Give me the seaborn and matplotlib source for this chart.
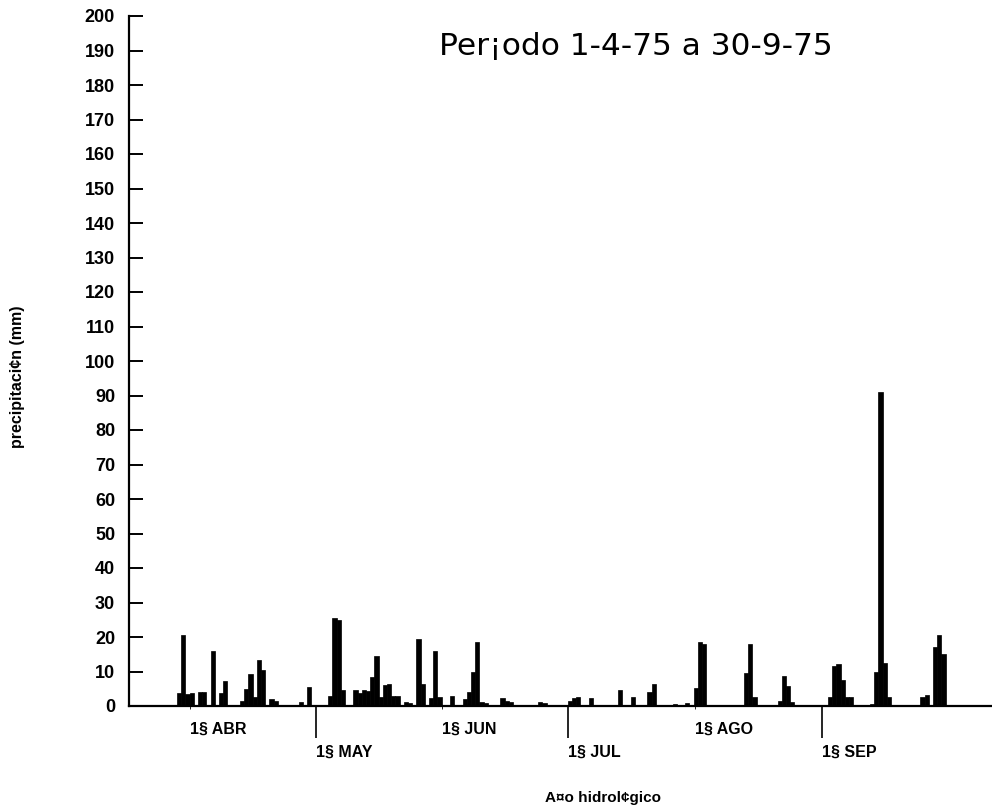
import matplotlib
matplotlib.use("Agg")
import matplotlib.pyplot as plt
import numpy as np
import pandas as pd
import seaborn as sns

# Daily precipitation (mm), day 0 = 1-4-75 ... day 182 = 30-9-75.
# Only the rainy days are listed; all other days are zero.
rain_day = [0, 1, 2, 3, 5, 6, 8, 10, 11, 15, 16, 17, 18, 19, 20, 22, 23, 29, 31,
            36, 37, 38, 39, 42, 43, 44, 45, 46, 47, 48, 49, 50, 51, 52, 54, 55,
            57, 58, 60, 61, 62, 65, 68, 69, 70, 71, 72, 73, 77, 78, 79, 86, 87,
            93, 94, 95, 98, 105, 108, 112, 113, 118, 121, 123, 124, 125, 132,
            135, 136, 137, 143, 144, 145, 146, 153, 155, 156, 157, 158, 159, 160,
            163, 165, 166, 167, 168, 169, 177, 178, 180, 181, 182]
rain_mm = [3.8, 20.5, 3.5, 3.8, 4.0, 4.0, 16.0, 3.8, 7.2, 1.5, 5.0, 9.3, 2.5, 13.3, 10.5, 2.0, 1.5, 1.3, 5.5,
           3.0, 25.5, 24.8, 4.5, 4.7, 3.7, 4.7, 4.3, 8.3, 14.6, 2.5, 6.0, 6.3, 3.0, 2.8, 1.2, 0.8,
           19.5, 6.5, 2.2, 15.8, 2.5, 3.0, 2.0, 4.2, 10.0, 18.5, 1.2, 1.0, 2.2, 1.5, 1.2, 1.2, 1.0,
           1.5, 2.3, 2.5, 2.3, 4.5, 2.5, 4.2, 6.5, 0.5, 0.8, 5.3, 18.5, 18.0, 0.3,
           9.5, 18.0, 2.5, 1.5, 8.6, 5.8, 1.2, 0.3, 2.5, 11.5, 12.3, 7.5, 2.5, 2.5,
           0.3, 0.7, 10.0, 91.0, 12.5, 2.6, 2.6, 3.2, 17.0, 20.5, 15.0]
n_days = 183

# Month marks along the hydrological-year axis
upper_month_pos = [2.6, 62.6, 122.8]
upper_month_lab = ["1§ ABR", "1§ JUN", "1§ AGO"]
lower_month_pos = [32.6, 92.6, 153.1]
lower_month_lab = ["1§ MAY", "1§ JUL", "1§ SEP"]

y_ticks = list(range(0, 201, 10))

title_text = "Per¡odo 1-4-75 a 30-9-75"
x_title = "A¤o hidrol¢gico"
y_title = "precipitaci¢n (mm)"

daily = np.zeros(n_days)
daily[rain_day] = rain_mm
df = pd.DataFrame({"dia": np.arange(n_days), "mm": daily})

sns.set_style("white")
plt.rcParams["font.family"] = ["Liberation Sans", "DejaVu Sans"]
plt.rcParams["text.color"] = "black"

fig = plt.figure(figsize=(9.92, 8.10), dpi=100)
ax = fig.add_axes([129 / 992, 104 / 810, 1 - 129 / 992, 690 / 810])

sns.barplot(data=df, x="dia", y="mm", color="black", width=1.0,
            errorbar=None, native_scale=True, edgecolor="black",
            linewidth=0.5, saturation=1, ax=ax)

ax.set_xlim((129 - 179) / 4.2, (992 - 179) / 4.2)
ax.set_ylim(0, 200)

for side in ("top", "right"):
    ax.spines[side].set_visible(False)
for side in ("left", "bottom"):
    ax.spines[side].set_linewidth(1.6)
    ax.spines[side].set_color("black")

ax.set_yticks(y_ticks)
ax.set_yticklabels([str(v) for v in y_ticks], fontweight="bold", fontsize=13,
                   color="black")
ax.tick_params(axis="y", left=True, direction="in", length=10, width=1.4,
               pad=10, colors="black")

ax.set_xticks(lower_month_pos)
ax.set_xticklabels(lower_month_lab, fontweight="bold", fontsize=11.5, ha="left",
                   color="black")
ax.set_xticks(upper_month_pos, minor=True)
ax.set_xticklabels(upper_month_lab, minor=True, fontweight="bold",
                   fontsize=11.5, ha="left", color="black")
ax.tick_params(axis="x", which="major", bottom=True, direction="out",
               length=23, width=1.2, pad=5, colors="black")
ax.tick_params(axis="x", which="minor", bottom=True, direction="out",
               length=2, width=0.6, pad=9, colors="black")

ax.set_xlabel("")
ax.set_ylabel("")
fig.text(603 / 992, 1 - 798 / 810, x_title, ha="center", va="center",
         fontsize=11, fontweight="bold", color="black")
fig.text(18 / 992, 1 - 377 / 810, y_title, ha="center", va="center",
         rotation=90, fontsize=11.5, fontweight="bold", color="black")
fig.text(636 / 992, 1 - 55 / 810, title_text, ha="center", va="baseline",
         fontsize=22.5, family=["DejaVu Sans"], color="black")

fig.savefig("out.png", dpi=100, facecolor="white")
